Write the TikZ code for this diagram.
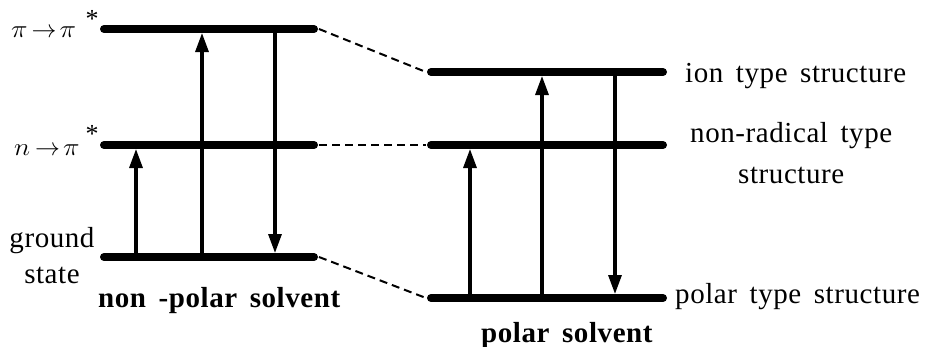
\documentclass[tikz,border=0pt]{standalone}
\usepackage{fontspec}
\setmainfont{Liberation Serif}[WordSpace=1.6, LetterSpace=2]
\usetikzlibrary{arrows.meta}
\newcommand{\wpi}{\scalebox{1.12}[1]{$\pi$}}
\newcommand{\sarr}{{\fontsize{25}{26}\selectfont$\rightarrow$}}
\begin{document}
\begin{tikzpicture}[x=1pt,y=-1pt,
  level/.style={line width=8pt,line cap=round},
  trans/.style={line width=3.2pt,-{Triangle[length=19pt,width=13pt]},shorten >=4pt},
  link/.style={line width=2pt,dash pattern=on 8pt off 5pt},
  lab/.style={inner sep=0pt,font=\fontsize{29}{32}\selectfont},
  head/.style={inner sep=0pt,font=\fontsize{29}{32}\selectfont\bfseries},
  mlab/.style={inner sep=0pt,font=\fontsize{30}{32}\selectfont},
  star/.style={inner sep=0pt,font=\fontsize{26}{28}\selectfont}]
\useasboundingbox (0,0) rectangle (926,346);

% energy levels, non-polar solvent
\coordinate (LTa) at (104,29);  \coordinate (LTb) at (314,29);
\coordinate (LMa) at (104,145); \coordinate (LMb) at (314,145);
\coordinate (LGa) at (104,257); \coordinate (LGb) at (314,257);
% energy levels, polar solvent
\coordinate (RTa) at (431,72);  \coordinate (RTb) at (663,72);
\coordinate (RMa) at (431,145); \coordinate (RMb) at (663,145);
\coordinate (RGa) at (431,298); \coordinate (RGb) at (663,298);

\draw[level] (LTa) -- (LTb);
\draw[level] (LMa) -- (LMb);
\draw[level] (LGa) -- (LGb);
\draw[level] (RTa) -- (RTb);
\draw[level] (RMa) -- (RMb);
\draw[level] (RGa) -- (RGb);

% correlation lines between the two solvents
\draw[link] ([xshift=5pt]LTb) -- ([xshift=-5pt]RTa);
\draw[link] ([xshift=5pt]LMb) -- ([xshift=-5pt]RMa);
\draw[link] ([xshift=5pt]LGb) -- ([xshift=-5pt]RGa);

% transitions, non-polar solvent
\coordinate (a1s) at (136,257); \coordinate (a1e) at (136,145);
\coordinate (a2s) at (202,257); \coordinate (a2e) at (202,29);
\coordinate (a3s) at (275,29);  \coordinate (a3e) at (275,257);
\draw[trans] (a1s) -- (a1e);
\draw[trans] (a2s) -- (a2e);
\draw[trans] (a3s) -- (a3e);

% transitions, polar solvent
\coordinate (b1s) at (470,298); \coordinate (b1e) at (470,145);
\coordinate (b2s) at (542,298); \coordinate (b2e) at (542,72);
\coordinate (b3s) at (615,72);  \coordinate (b3e) at (615,298);
\draw[trans] (b1s) -- (b1e);
\draw[trans] (b2s) -- (b2e);
\draw[trans] (b3s) -- (b3e);

% level labels, left
\node[mlab,anchor=base west] (pp) at (11,37) {\wpi\hspace{4pt}\sarr\hspace{3pt}\wpi};
\node[star] (ppstar) at (92,19) {*};
\node[mlab,anchor=base west] (np) at (14,155) {\scalebox{1.1}[1]{$n$}\hspace{5pt}\sarr\hspace{3pt}\wpi};
\node[star] (npstar) at (92,134) {*};
\node[lab,anchor=base] (gs1) at (52,247) {ground};
\node[lab,anchor=base] (gs2) at (52,283) {state};

% level labels, right
\node[lab,anchor=base west] (ion) at (685,82) {ion type structure};
\node[lab,anchor=base west] (nr1) at (690,142) {non-radical type};
\node[lab,anchor=base west] (nr2) at (738,183) {structure};
\node[lab,anchor=base west] (pol) at (675,303) {polar type structure};

% solvent captions
\node[head,anchor=base west] (nps) at (98,307) {non -polar solvent};
\node[head,anchor=base west] (ps) at (481,342) {polar solvent};
\end{tikzpicture}
\end{document}
